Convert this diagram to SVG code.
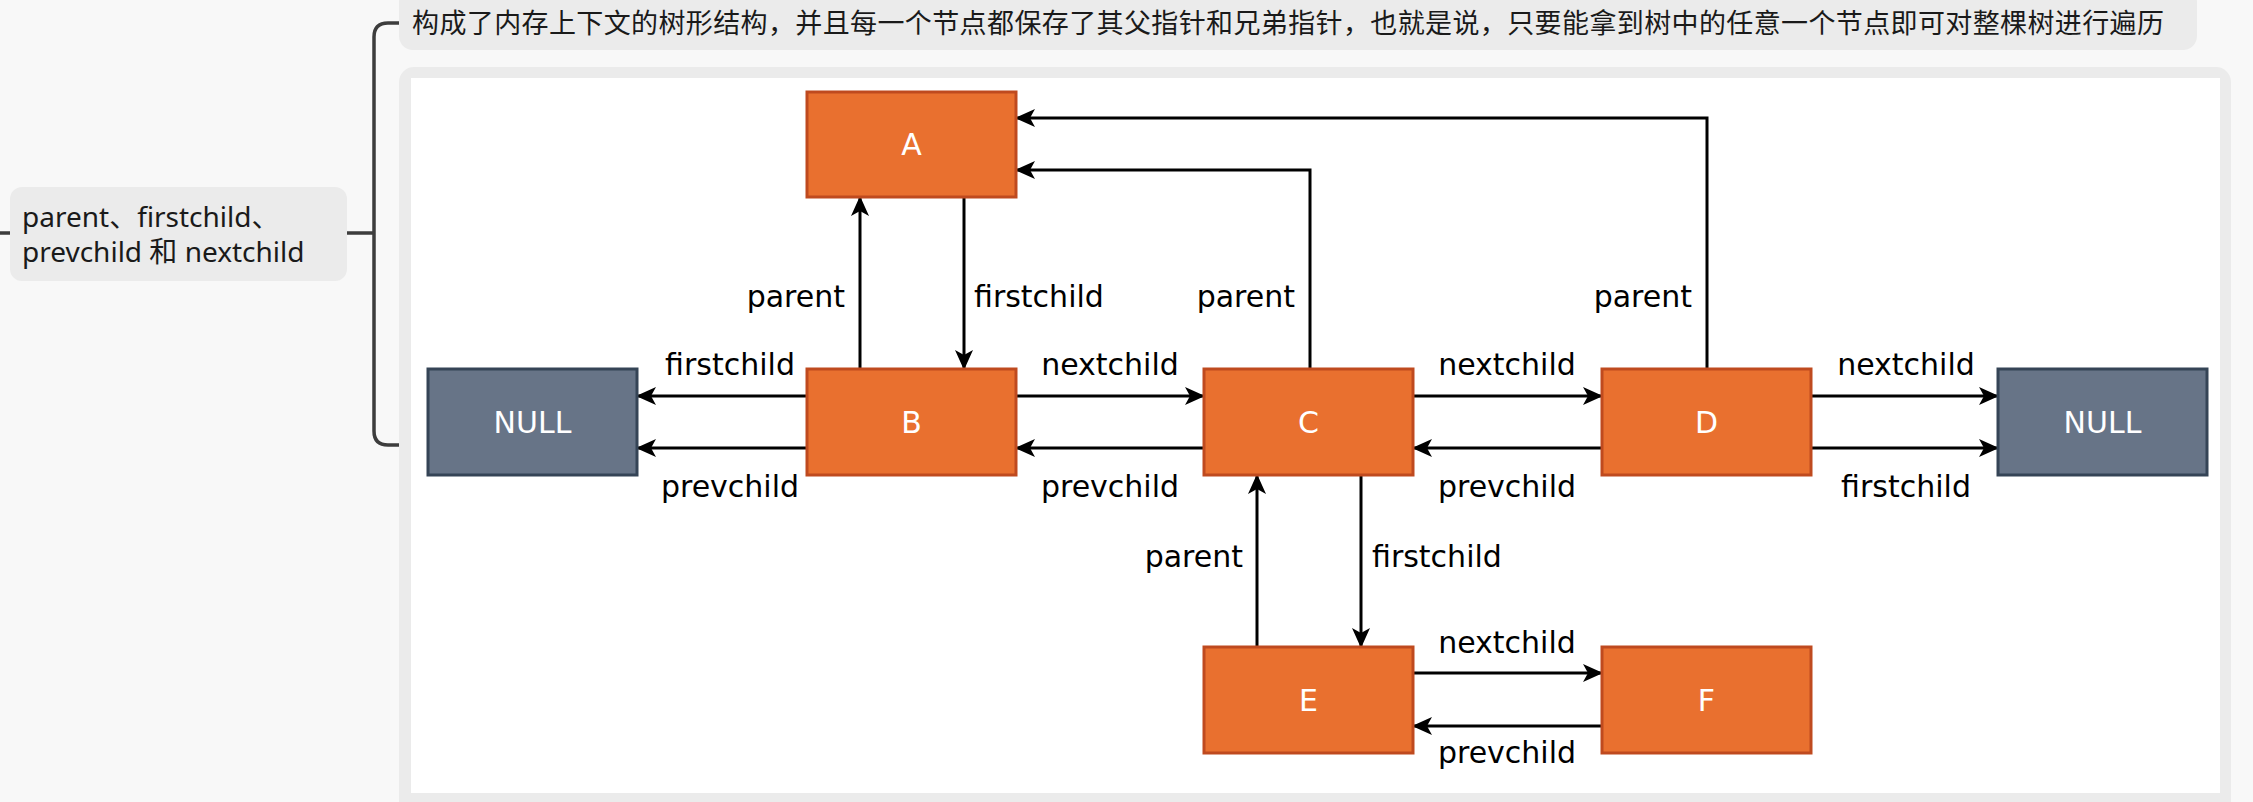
<svg xmlns="http://www.w3.org/2000/svg" width="2253" height="802" viewBox="0 0 2253 802">
<defs>
<style>
.bg{fill:#f8f8f8}
.box{fill:#ebebeb}
.note{font-family:"Noto Sans","Noto Sans CJK SC",sans-serif;font-size:28px;fill:#1a1a1a}
.note2{font-family:"Noto Sans","Noto Sans CJK SC",sans-serif;font-size:27px;fill:#1a1a1a}
.br{fill:none;stroke:#3d3d3d;stroke-width:3.5}
.org{fill:#e9702f;stroke:#bf4a1f;stroke-width:3}
.gry{fill:#677487;stroke:#354456;stroke-width:3}
.nt{font-family:"DejaVu Sans",sans-serif;font-size:30px;fill:#ffffff;text-anchor:middle;dominant-baseline:central}
.ln{fill:none;stroke:#000;stroke-width:3;marker-end:url(#ah)}
.lb{font-family:"DejaVu Sans",sans-serif;font-size:30px;fill:#000}
</style>
<marker id="ah" viewBox="0 0 20 18" refX="19" refY="9" markerWidth="20" markerHeight="18" markerUnits="userSpaceOnUse" orient="auto">
<path d="M0,0 L20,9 L0,18 L5,9 Z" fill="#000"/>
</marker>
</defs>
<rect class="bg" x="0" y="0" width="2253" height="802"/>

<g id="mindmap-links">
<line x1="0" y1="233" x2="10" y2="233" class="br"/>
<path class="br" d="M347,233 H374"/>
<path class="br" d="M400,23 H388 Q374,23 374,37 V431 Q374,445 388,445 H400"/>
</g>

<g id="topic">
<rect class="box" x="10" y="187" width="337" height="94" rx="12"/>
<text class="note" x="22" y="227">parent、firstchild、</text>
<text class="note" x="22" y="262">prevchild 和 nextchild</text>
</g>

<g id="note-text">
<rect class="box" x="399" y="-12" width="1798" height="62" rx="14"/>
<text class="note2" x="412" y="33" textLength="1752" lengthAdjust="spacing">构成了内存上下文的树形结构，并且每一个节点都保存了其父指针和兄弟指针，也就是说，只要能拿到树中的任意一个节点即可对整棵树进行遍历</text>
</g>

<g id="panel">
<rect class="box" x="399" y="67" width="1832" height="750" rx="15"/>
<rect fill="#ffffff" x="411" y="78" width="1809" height="715"/>
</g>

<g id="connectors">
<line class="ln" x1="860" y1="369" x2="860" y2="197"/>
<line class="ln" x1="964" y1="197" x2="964" y2="369"/>
<path class="ln" d="M1310,369 V170 H1016"/>
<path class="ln" d="M1707,369 V118 H1016"/>
<line class="ln" x1="1016" y1="396" x2="1204" y2="396"/>
<line class="ln" x1="1204" y1="448" x2="1016" y2="448"/>
<line class="ln" x1="807" y1="396" x2="637" y2="396"/>
<line class="ln" x1="807" y1="448" x2="637" y2="448"/>
<line class="ln" x1="1413" y1="396" x2="1602" y2="396"/>
<line class="ln" x1="1602" y1="448" x2="1413" y2="448"/>
<line class="ln" x1="1811" y1="396" x2="1998" y2="396"/>
<line class="ln" x1="1811" y1="448" x2="1998" y2="448"/>
<line class="ln" x1="1257" y1="647" x2="1257" y2="475"/>
<line class="ln" x1="1361" y1="475" x2="1361" y2="647"/>
<line class="ln" x1="1413" y1="673" x2="1602" y2="673"/>
<line class="ln" x1="1602" y1="726" x2="1413" y2="726"/>
<text class="lb" x="845" y="307" text-anchor="end">parent</text>
<text class="lb" x="974" y="307">firstchild</text>
<text class="lb" x="1295" y="307" text-anchor="end">parent</text>
<text class="lb" x="1692" y="307" text-anchor="end">parent</text>
<text class="lb" x="1110" y="375" text-anchor="middle">nextchild</text>
<text class="lb" x="1110" y="497" text-anchor="middle">prevchild</text>
<text class="lb" x="730" y="375" text-anchor="middle">firstchild</text>
<text class="lb" x="730" y="497" text-anchor="middle">prevchild</text>
<text class="lb" x="1507" y="375" text-anchor="middle">nextchild</text>
<text class="lb" x="1507" y="497" text-anchor="middle">prevchild</text>
<text class="lb" x="1906" y="375" text-anchor="middle">nextchild</text>
<text class="lb" x="1906" y="497" text-anchor="middle">firstchild</text>
<text class="lb" x="1243" y="567" text-anchor="end">parent</text>
<text class="lb" x="1372" y="567">firstchild</text>
<text class="lb" x="1507" y="653" text-anchor="middle">nextchild</text>
<text class="lb" x="1507" y="763" text-anchor="middle">prevchild</text>
</g>

<g id="node-A"><rect class="org" x="807" y="92" width="209" height="105"/><text class="nt" x="911.5" y="144.5">A</text></g>
<g id="node-B"><rect class="org" x="807" y="369" width="209" height="106"/><text class="nt" x="911.5" y="422">B</text></g>
<g id="node-C"><rect class="org" x="1204" y="369" width="209" height="106"/><text class="nt" x="1308.5" y="422">C</text></g>
<g id="node-D"><rect class="org" x="1602" y="369" width="209" height="106"/><text class="nt" x="1706.5" y="422">D</text></g>
<g id="node-E"><rect class="org" x="1204" y="647" width="209" height="106"/><text class="nt" x="1308.5" y="700">E</text></g>
<g id="node-F"><rect class="org" x="1602" y="647" width="209" height="106"/><text class="nt" x="1706.5" y="700">F</text></g>
<g id="node-NULL-left"><rect class="gry" x="428" y="369" width="209" height="106"/><text class="nt" x="532.5" y="422">NULL</text></g>
<g id="node-NULL-right"><rect class="gry" x="1998" y="369" width="209" height="106"/><text class="nt" x="2102.5" y="422">NULL</text></g>
</svg>
